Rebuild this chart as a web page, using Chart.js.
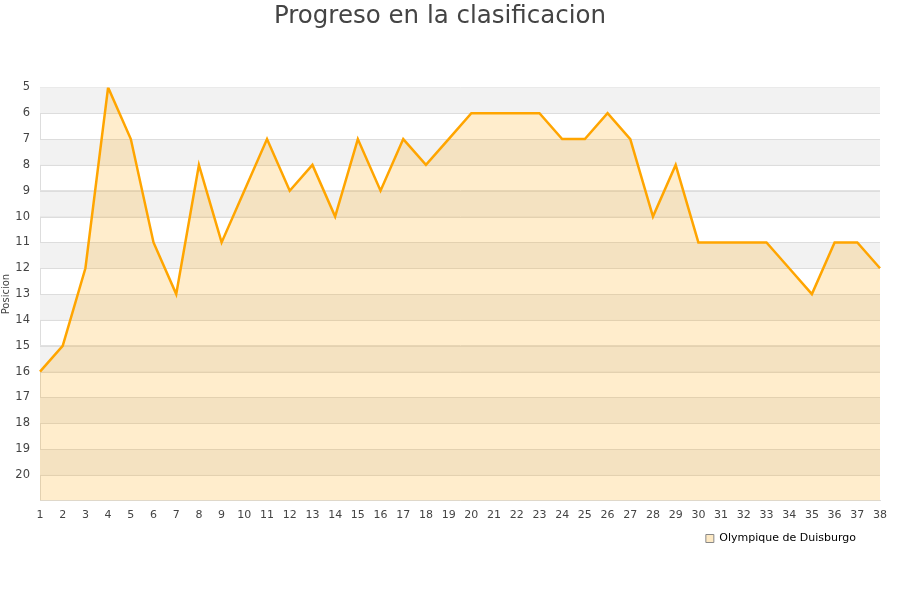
<!DOCTYPE html>
<html>
<head>
<meta charset="utf-8">
<script src="https://cdn.jsdelivr.net/npm/chart.js@4/dist/chart.umd.min.js"></script>
<style>
  html, body { margin: 0; padding: 0; background: #fff; }
  #wrap { width: 900px; height: 600px; }
</style>
</head>
<body>
<div id="wrap"><canvas id="posChart"></canvas></div>
<script>
// jornadas and position per jornada
const jornadas = Array.from({ length: 38 }, (_, i) => String(i + 1));
const posiciones = [16, 15, 12, 5, 7, 11, 13, 8, 11, 9, 7, 9, 8, 10, 7, 9, 7, 8, 7, 6,
  6, 6, 6, 7, 7, 6, 7, 10, 8, 11, 11, 11, 11, 12, 13, 11, 11, 12];
const teamName = "Olympique de Duisburgo";

// alternating grey bands behind the plot
const bandPlugin = {
  id: "bands",
  beforeDatasetsDraw(chart) {
    const { ctx, chartArea, scales } = chart;
    ctx.save();
    for (let v = 5; v < 21; v += 2) {
      const y1 = scales.y.getPixelForValue(v);
      const y2 = scales.y.getPixelForValue(v + 1);
      ctx.fillStyle = "#f2f2f2";
      ctx.fillRect(chartArea.left, y1, chartArea.right - chartArea.left, y2 - y1);
    }
    // redraw grid lines over bands
    ctx.strokeStyle = "#dddddd";
    ctx.lineWidth = 1;
    for (let v = 6; v <= 20; v++) {
      const y = Math.round(scales.y.getPixelForValue(v)) + 0.5;
      ctx.beginPath();
      ctx.moveTo(chartArea.left, y);
      ctx.lineTo(chartArea.right, y);
      ctx.stroke();
    }
    ctx.restore();
  }
};

const ctx = document.getElementById("posChart").getContext("2d");
new Chart(ctx, {
  type: "line",
  data: {
    labels: jornadas,
    datasets: [
      {
        label: teamName,
        data: posiciones,
        borderColor: "#ffa500",
        backgroundColor: "rgba(255, 165, 0, 0.2)",
        borderWidth: 2.5,
        pointRadius: 0,
        tension: 0,
        fill: { value: 21 }
      }
    ]
  },
  plugins: [bandPlugin],
  options: {
    responsive: true,
    maintainAspectRatio: false,
    animation: false,
    layout: { padding: { left: 0, right: 20, top: 0, bottom: 46 } },
    plugins: {
      title: {
        display: true,
        text: "Progreso en la clasificacion",
        color: "#444",
        font: { family: "DejaVu Sans", size: 24.5, weight: "normal" },
        padding: { top: 2, bottom: 56 }
      },
      legend: {
        position: "bottom",
        align: "end",
        labels: {
          color: "#000",
          font: { family: "DejaVu Sans", size: 11 },
          boxWidth: 8,
          boxHeight: 8,
          padding: 3,
          generateLabels(chart) {
            return [{
              text: teamName + "      ",
              fillStyle: "#fde9c4",
              strokeStyle: "#888",
              lineWidth: 1,
              datasetIndex: 0
            }];
          }
        }
      },
      tooltip: { enabled: false }
    },
    scales: {
      x: {
        offset: false,
        grid: { display: false, drawTicks: false },
        border: { color: "#dddddd" },
        ticks: {
          color: "#444",
          font: { family: "DejaVu Sans", size: 11 },
          maxRotation: 0,
          autoSkip: false,
          padding: 8
        }
      },
      y: {
        reverse: true,
        min: 5,
        max: 21,
        afterFit(scale) { scale.width = 40; },
        grid: { color: "#dddddd", drawTicks: false },
        border: { color: "#dddddd" },
        title: {
          display: true,
          text: "Posicion",
          color: "#444",
          font: { family: "DejaVu Sans", size: 10 },
          padding: 0
        },
        ticks: {
          stepSize: 1,
          color: "#444",
          font: { family: "DejaVu Sans", size: 11.5 },
          padding: 10,
          callback: (v) => (v <= 20 ? v : "")
        }
      }
    }
  }
});
</script>
</body>
</html>
